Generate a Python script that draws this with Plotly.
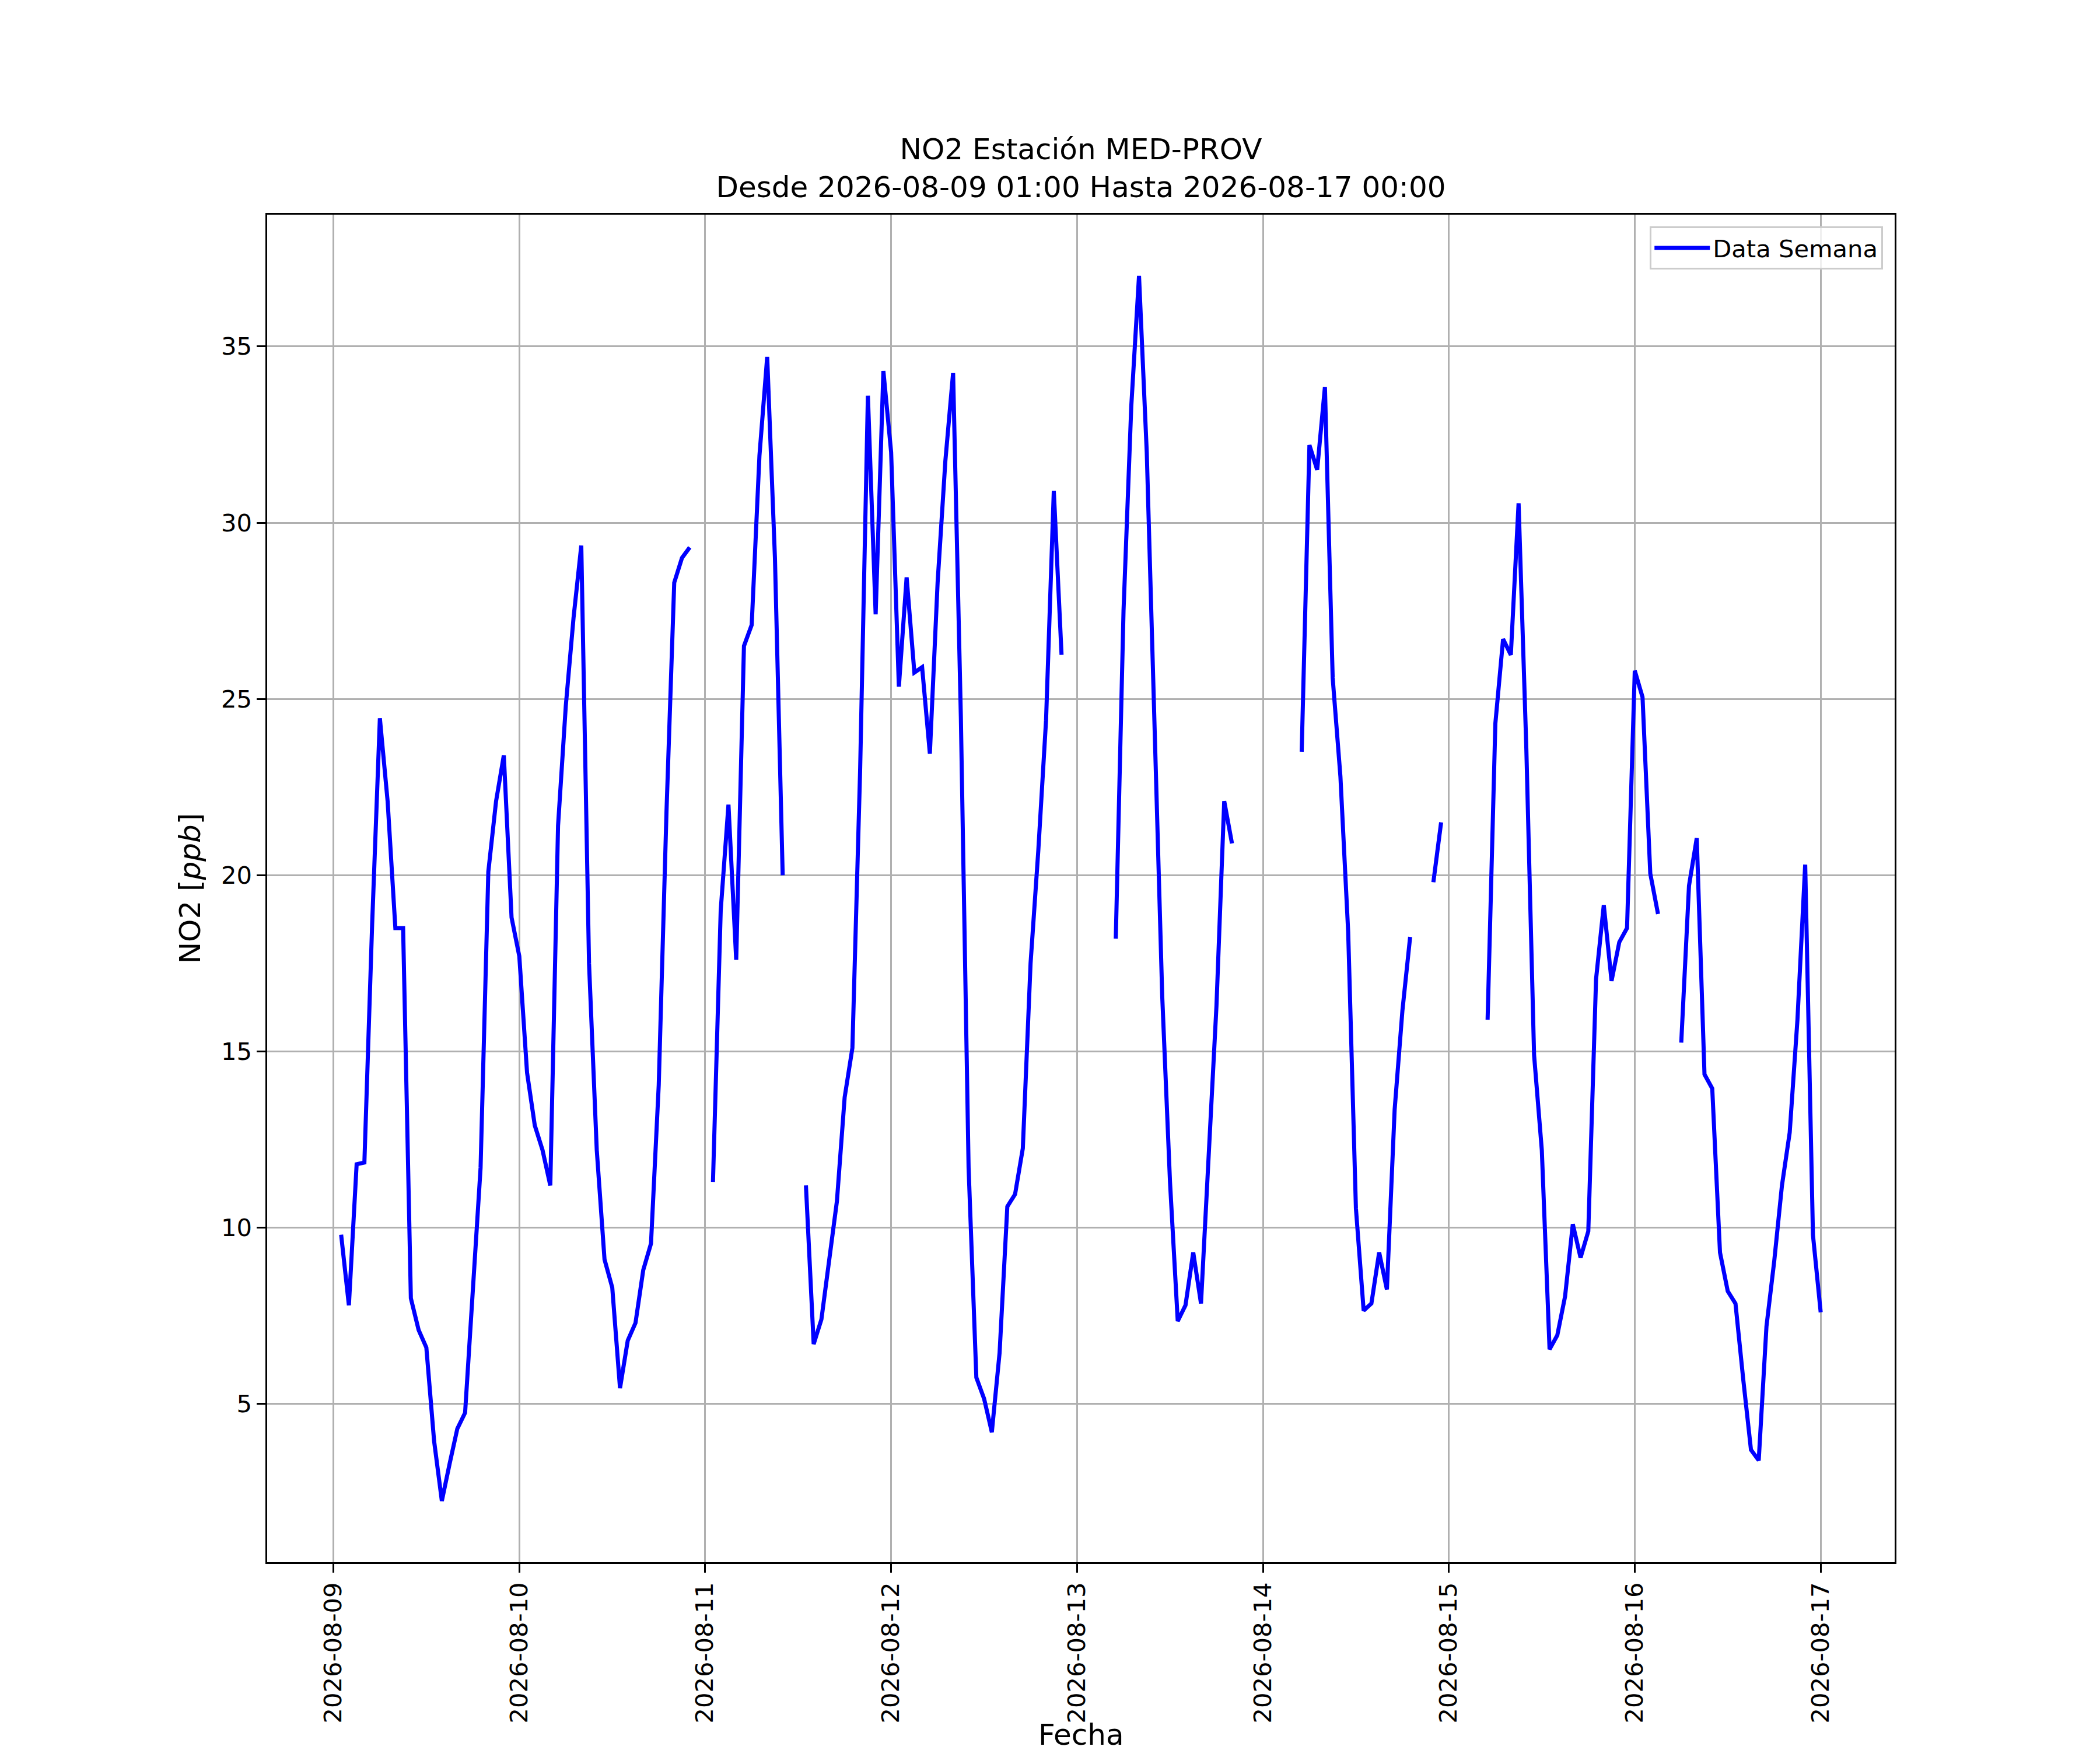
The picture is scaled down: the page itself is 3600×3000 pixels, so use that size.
import pandas as pd
import plotly.graph_objects as go

# Datos horarios NO2 (ppb), desde 2026-08-09 01:00, None = sin dato
dia1 = [9.8, 7.8, 11.8, 11.85, 18.6, 24.45, 22.1, 18.5, 18.5, 8.0, 7.1, 6.6,
        3.95, 2.25, 3.3, 4.3, 4.75, 8.3, 11.7, 20.1, 22.1, 23.4, 18.8, 17.7]
dia2 = [14.4, 12.9, 12.2, 11.2, 21.4, 24.8, 27.3, 29.35, 17.5, 12.2, 9.1, 8.3,
        5.45, 6.8, 7.3, 8.8, 9.55, 14.05, 21.8, 28.3, 29.0, 29.3, None, None]
dia3 = [11.3, 19.0, 22.0, 17.6, 26.5, 27.1, 31.9, 34.7, 29.0, 20.0, None, None,
        11.2, 6.7, 7.4, 9.05, 10.75, 13.7, 15.1, 23.0, 33.6, 27.4, 34.3, 32.0]
dia4 = [25.35, 28.45, 25.75, 25.9, 23.45, 28.3, 31.75, 34.25, 24.5, 11.7, 5.75, 5.15,
        4.2, 6.45, 10.6, 10.95, 12.25, 17.5, 20.7, 24.4, 30.9, 26.25, None, None]
dia5 = [None, None, None, None, 18.2, 27.5, 33.3, 37.0, 32.0, 24.5, 16.55, 11.3,
        7.35, 7.8, 9.3, 7.85, 12.05, 16.3, 22.1, 20.9, None, None, None, None]
dia6 = [None, None, None, None, 23.5, 32.2, 31.5, 33.85, 25.6, 22.8, 18.4, 10.55,
        7.65, 7.85, 9.3, 8.25, 13.35, 16.15, 18.25, None, None, 19.8, 21.5, None]
dia7 = [None, None, None, None, 15.9, 24.3, 26.7, 26.25, 30.55, 23.6, 14.9, 12.2,
        6.55, 6.95, 8.05, 10.1, 9.15, 9.9, 17.05, 19.15, 17.0, 18.1, 18.5, 25.8]
dia8 = [25.05, 20.05, 18.9, None, None, 15.25, 19.7, 21.05, 14.35, 13.95, 9.3, 8.2,
        7.85, 5.7, 3.7, 3.4, 7.2, 9.05, 11.2, 12.7, 15.9, 20.3, 9.8, 7.6]

valores = dia1 + dia2 + dia3 + dia4 + dia5 + dia6 + dia7 + dia8
fechas = pd.date_range("2026-08-09 01:00", periods=len(valores), freq="h")
ticks_y = [5, 10, 15, 20, 25, 30, 35]

FONT = "DejaVu Sans"
PT = 300 / 72  # figura a 300 dpi
MB, MT = 330, 360
ALTO = 3000

# rangos con el 5% de margen, como matplotlib
validos = [v for v in valores if v is not None]
ymin, ymax = min(validos), max(validos)
dy = (ymax - ymin) * 0.05
dx = (fechas[-1] - fechas[0]) * 0.05

fig = go.Figure()
fig.add_trace(go.Scatter(x=fechas, y=valores, mode="lines", name="Data Semana",
                         line=dict(color="#0000ff", width=7), connectgaps=False))

eje = dict(showline=True, mirror=True, linecolor="black", linewidth=0.8 * PT,
           ticks="outside", ticklen=3.5 * PT, tickwidth=0.8 * PT, tickcolor="black",
           showgrid=True, gridcolor="#b0b0b0", gridwidth=0.8 * PT, zeroline=False,
           tickfont=dict(family=FONT, size=10 * PT, color="black"), automargin=False)

fig.update_layout(
    width=3600, height=ALTO,
    margin=dict(l=450, r=360, t=MT, b=MB),
    paper_bgcolor="white", plot_bgcolor="white",
    font=dict(family=FONT, color="black"),
    title=dict(text="NO2 Estación MED-PROV<br>Desde 2026-08-09 01:00 Hasta 2026-08-17 00:00",
               x=0.5, xref="paper", xanchor="center",
               y=1, yref="paper", yanchor="bottom", pad=dict(b=95),
               font=dict(family=FONT, size=12 * PT, color="black")),
    showlegend=True,
    legend=dict(x=0.9928, y=0.9913, xanchor="right", yanchor="top",
                bgcolor="rgba(255,255,255,0.8)", bordercolor="#cccccc",
                borderwidth=0.8 * PT, font=dict(family=FONT, size=10 * PT),
                itemwidth=95),
)
fig.update_xaxes(eje, range=[fechas[0] - dx, fechas[-1] + dx], dtick=86400000,
                 tick0="2026-08-09", tickformat="%Y-%m-%d", tickangle=-90)
fig.update_yaxes(eje, range=[ymin - dy, ymax + dy], tickvals=ticks_y,
                 title=dict(text="NO2 [<i>ppb</i>]", font=dict(family=FONT, size=12 * PT), standoff=20))

# etiqueta del eje x, pegada al borde inferior como en el original
fig.add_annotation(text="Fecha", x=0.5, xref="paper", xanchor="center",
                   y=-MB / (ALTO - MB - MT), yref="paper", yanchor="bottom", yshift=3,
                   showarrow=False, font=dict(family=FONT, size=12 * PT, color="black"))

fig.write_html("out.html")
